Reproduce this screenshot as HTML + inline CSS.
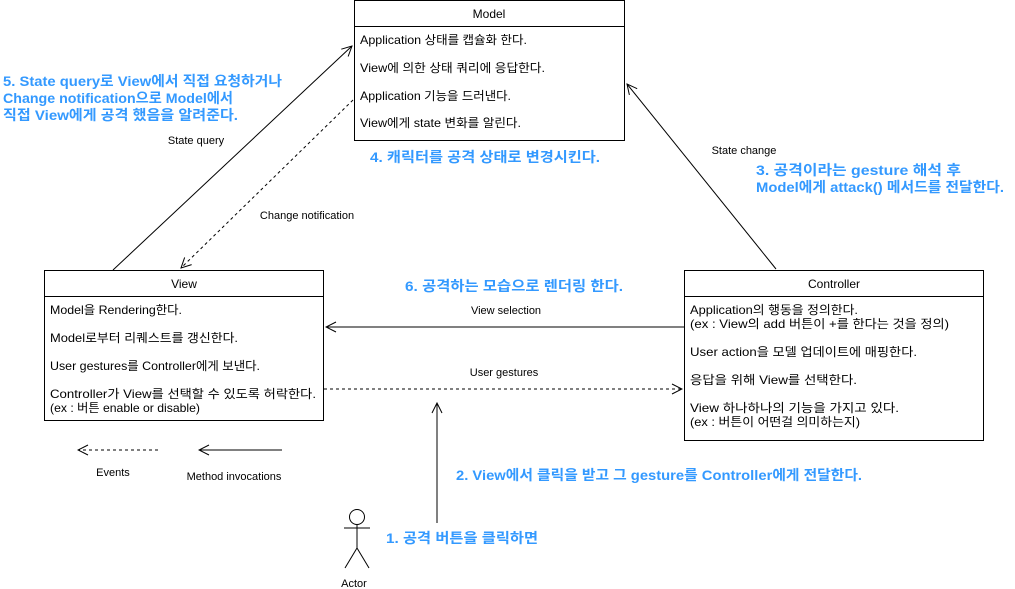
<!DOCTYPE html>
<html><head><meta charset="utf-8"><style>
body{margin:0;background:#fff}
svg{display:block}
text{font-family:"Liberation Sans","Noto Sans CJK KR",sans-serif;font-size:12px;fill:#000}
.b{fill:#3399ff;font-weight:bold;font-size:14px}
.s{font-size:11px}
</style></head><body>
<svg width="1015" height="589" viewBox="0 0 1015 589">
<defs>
<marker id="a" markerWidth="12" markerHeight="12" refX="11" refY="6" orient="auto" markerUnits="userSpaceOnUse">
<path d="M1,1 L11,6 L1,11" fill="none" stroke="#000" stroke-width="1"/></marker>
</defs>
<g fill="#fff" stroke="#000" stroke-width="1">
<rect x="354.5" y="0.5" width="270" height="140"/>
<line x1="354.5" y1="26.5" x2="624.5" y2="26.5"/>
<rect x="44.5" y="270.5" width="279" height="150"/>
<line x1="44.5" y1="296.5" x2="323.5" y2="296.5"/>
<rect x="684.5" y="270.5" width="299" height="170"/>
<line x1="684.5" y1="296.5" x2="983.5" y2="296.5"/>
</g>
<g stroke="#000" stroke-width="1" fill="none">
<line x1="113" y1="270" x2="352" y2="46" marker-end="url(#a)"/>
<line x1="353" y1="100" x2="181" y2="268" stroke-dasharray="3,3" marker-end="url(#a)"/>
<line x1="776" y1="269" x2="627" y2="84" marker-end="url(#a)"/>
<line x1="684" y1="327" x2="326" y2="327" marker-end="url(#a)"/>
<line x1="324" y1="389" x2="682" y2="389" stroke-dasharray="3,3" marker-end="url(#a)"/>
<line x1="437" y1="523" x2="437" y2="403" marker-end="url(#a)"/>
<line x1="158" y1="450" x2="78" y2="450" stroke-dasharray="3,3" marker-end="url(#a)"/>
<line x1="282" y1="450" x2="199" y2="450" marker-end="url(#a)"/>
<circle cx="357" cy="517" r="7.5"/>
<line x1="357" y1="525" x2="357" y2="548"/>
<line x1="344" y1="528" x2="370" y2="528"/>
<line x1="357" y1="548" x2="345" y2="568"/>
<line x1="357" y1="548" x2="369" y2="568"/>
</g>
<g>
<text x="489" y="18" text-anchor="middle">Model</text>
<text x="360" y="44" textLength="167" lengthAdjust="spacingAndGlyphs">Application 상태를 캡슐화 한다.</text>
<text x="360" y="72" textLength="185" lengthAdjust="spacingAndGlyphs">View에 의한 상태 쿼리에 응답한다.</text>
<text x="360" y="100" textLength="151" lengthAdjust="spacingAndGlyphs">Application 기능을 드러낸다.</text>
<text x="360" y="127" textLength="161" lengthAdjust="spacingAndGlyphs">View에게 state 변화를 알린다.</text>
<text x="184" y="288" text-anchor="middle">View</text>
<text x="50" y="314" textLength="132" lengthAdjust="spacingAndGlyphs">Model을 Rendering한다.</text>
<text x="50" y="342" textLength="188" lengthAdjust="spacingAndGlyphs">Model로부터 리퀘스트를 갱신한다.</text>
<text x="50" y="370" textLength="210" lengthAdjust="spacingAndGlyphs">User gestures를 Controller에게 보낸다.</text>
<text x="50" y="398" textLength="266" lengthAdjust="spacingAndGlyphs">Controller가 View를 선택할 수 있도록 허락한다.</text>
<text x="50" y="412" textLength="150" lengthAdjust="spacingAndGlyphs">(ex : 버튼 enable or disable)</text>
<text x="834" y="288" text-anchor="middle">Controller</text>
<text x="690" y="314" textLength="168" lengthAdjust="spacingAndGlyphs">Application의 행동을 정의한다.</text>
<text x="690" y="328" textLength="259" lengthAdjust="spacingAndGlyphs">(ex : View의 add 버튼이 +를 한다는 것을 정의)</text>
<text x="690" y="356" textLength="227" lengthAdjust="spacingAndGlyphs">User action을 모델 업데이트에 매핑한다.</text>
<text x="690" y="384" textLength="167" lengthAdjust="spacingAndGlyphs">응답을 위해 View를 선택한다.</text>
<text x="690" y="412" textLength="209" lengthAdjust="spacingAndGlyphs">View 하나하나의 기능을 가지고 있다.</text>
<text x="690" y="426" textLength="170" lengthAdjust="spacingAndGlyphs">(ex : 버튼이 어떤걸 의미하는지)</text>
<text class="s" x="196" y="144" text-anchor="middle">State query</text>
<text class="s" x="307" y="219" text-anchor="middle">Change notification</text>
<text class="s" x="744" y="154" text-anchor="middle">State change</text>
<text class="s" x="506" y="314" text-anchor="middle">View selection</text>
<text class="s" x="504" y="376" text-anchor="middle">User gestures</text>
<text class="s" x="113" y="476" text-anchor="middle">Events</text>
<text class="s" x="234" y="480" text-anchor="middle">Method invocations</text>
<text class="s" x="354" y="587" text-anchor="middle">Actor</text>
<text class="b" x="3" y="86" textLength="279" lengthAdjust="spacingAndGlyphs">5. State query로 View에서 직접 요청하거나</text>
<text class="b" x="3" y="103" textLength="230" lengthAdjust="spacingAndGlyphs">Change notification으로 Model에서</text>
<text class="b" x="3" y="120" textLength="235" lengthAdjust="spacingAndGlyphs">직접 View에게 공격 했음을 알려준다.</text>
<text class="b" x="370" y="162" textLength="230" lengthAdjust="spacingAndGlyphs">4. 캐릭터를 공격 상태로 변경시킨다.</text>
<text class="b" x="756" y="175" textLength="205" lengthAdjust="spacingAndGlyphs">3. 공격이라는 gesture 해석 후</text>
<text class="b" x="756" y="192" textLength="248" lengthAdjust="spacingAndGlyphs">Model에게 attack() 메서드를 전달한다.</text>
<text class="b" x="405" y="291" textLength="218" lengthAdjust="spacingAndGlyphs">6. 공격하는 모습으로 렌더링 한다.</text>
<text class="b" x="456" y="480" textLength="406" lengthAdjust="spacingAndGlyphs">2. View에서 클릭을 받고 그 gesture를 Controller에게 전달한다.</text>
<text class="b" x="386" y="543" textLength="152" lengthAdjust="spacingAndGlyphs">1. 공격 버튼을 클릭하면</text>
</g>
</svg>
</body></html>
